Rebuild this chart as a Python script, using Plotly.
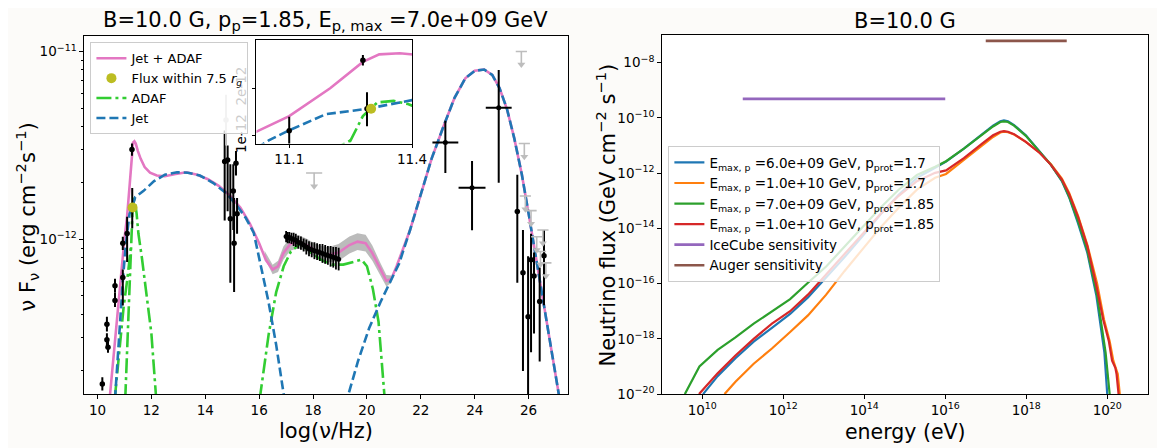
import plotly.graph_objects as go

# ================= LEFT PANEL DATA (x: log10(nu/Hz), y: log10(nu F_nu)) =================
total_x = [10.45, 10.6, 10.73, 10.87, 11.0, 11.1, 11.2, 11.28, 11.32, 11.37, 11.42, 11.5, 11.6, 11.75, 11.95,
           12.2, 12.5, 12.9, 13.3, 13.7, 14.1, 14.5, 14.9, 15.3, 15.65, 16.0, 16.25, 16.5, 16.7, 16.9,
           17.15, 17.45, 17.75, 18.15, 18.55, 18.95, 19.35, 19.65, 19.95, 20.2, 20.5, 20.72, 20.9, 21.1,
           21.6, 22.0, 22.4, 22.85, 23.25, 23.65, 24.0, 24.35, 24.65, 24.92, 25.2, 25.47, 25.75, 26.02,
           26.3, 26.57, 26.85, 27.15]
total_y = [-12.85, -12.63, -12.42, -12.2, -12.0, -11.876, -11.70, -11.533, -11.485, -11.478, -11.49, -11.53,
           -11.57, -11.615, -11.645, -11.66, -11.664, -11.652, -11.643, -11.656, -11.68, -11.715, -11.765,
           -11.83, -11.915, -12.02, -12.11, -12.16, -12.143, -12.073, -12.025, -12.012, -12.03, -12.064,
           -12.082, -12.07, -12.03, -12.012, -12.02, -12.073, -12.16, -12.22, -12.212, -12.143, -11.95,
           -11.76, -11.57, -11.395, -11.247, -11.143, -11.103, -11.096, -11.125, -11.195, -11.308, -11.464,
           -11.656, -11.88, -12.125, -12.369, -12.612, -12.85]

jet_x = [10.65, 10.8, 10.95, 11.05, 11.1, 11.19, 11.29, 11.4, 11.7, 12.1, 12.5, 12.95, 13.35, 13.8, 14.3,
         14.8, 15.2, 15.5, 15.8, 16.08, 16.35, 16.63, 16.97, None,
         19.2, 19.67, 20.08, 20.5, 20.91, 21.19, 21.6, 22.0, 22.4, 22.85, 23.25, 23.65, 24.0, 24.35, 24.65,
         24.92, 25.2, 25.47, 25.75, 26.02, 26.3, 26.57, 26.85, 27.15]
jet_y = [-12.85, -12.5, -12.2, -12.03, -11.966, -11.864, -11.83, -11.775, -11.743, -11.69, -11.656, -11.643,
         -11.645, -11.66, -11.70, -11.757, -11.825, -11.885, -11.965, -12.16, -12.334, -12.56, -12.88, None,
         -12.88, -12.647, -12.473, -12.334, -12.212, -12.13, -11.95, -11.76, -11.57, -11.395, -11.247,
         -11.143, -11.103, -11.096, -11.125, -11.195, -11.308, -11.464, -11.656, -11.88, -12.125, -12.369,
         -12.612, -12.85]

adaf_x = [10.64, 10.8, 10.97, 11.1, 11.2, 11.25, None,
          11.03, 11.15, 11.25, 11.28, 11.315, 11.355, 11.39, 11.45, 11.52, 11.65, 11.79, 12.0, 12.18, None,
          16.02, 16.35, 16.63, 16.91, 17.18, 17.46, 17.6, 17.87, 18.29, 18.7, 19.12, 19.53, 19.8, 20.0,
          20.22, 20.43, 20.66]
adaf_y = [-12.85, -12.6, -12.36, -12.22, -12.1, -12.03, None,
          -12.85, -12.4, -12.03, -11.876, -11.79, -11.78, -11.80, -11.86, -11.97, -12.1, -12.25, -12.5, -12.85,
          None,
          -12.85, -12.508, -12.282, -12.143, -12.064, -12.03, -12.03, -12.064, -12.108, -12.134, -12.134,
          -12.117, -12.108, -12.143, -12.264, -12.438, -12.85]

band_x = [16.2, 16.5, 16.7, 16.9, 17.15, 17.45, 17.75, 18.15, 18.55, 18.95, 19.35, 19.65, 19.95, 20.2, 20.5,
          20.72, 20.9]
band_hi = [-12.06, -12.135, -12.113, -12.038, -11.99, -11.977, -11.995, -12.029, -12.042, -12.025, -11.985,
           -11.967, -11.975, -12.033, -12.125, -12.19, -12.192]
band_lo = [-12.10, -12.185, -12.173, -12.108, -12.06, -12.047, -12.065, -12.099, -12.122, -12.115, -12.075,
           -12.057, -12.065, -12.113, -12.195, -12.25, -12.232]

# black data points with vertical error bars
pts_x = [10.18, 10.35, 10.35, 10.39, 10.65, 10.65, 10.94, 10.94, 11.1, 11.28, 11.29,
         14.72, 14.83, 14.93, 15.04, 15.07, 15.14, 15.18,
         25.58, 25.79, 25.98, 26.09, 26.2, 26.41, 26.57]
pts_y = [-12.769, -12.452, -12.534, -12.574, -12.325, -12.247, -12.203, -12.02, -11.969, -11.522, -11.83,
         -11.586, -11.577, -11.89, -11.742, -12.02, -11.595, -11.864,
         -11.852, -12.177, -12.412, -12.108, -12.195, -12.33, -12.087]
pts_lo = [-12.804, -12.49, -12.569, -12.603, -12.36, -12.282, -12.351, -12.056, -12.12, -11.555, -11.94,
          -11.9, -11.85, -12.23, -11.95, -12.28, -11.66, -11.97,
          -12.23, -12.7, -13.0, -12.6, -12.5, -12.65, -12.35]
pts_hi = [-12.734, -12.412, -12.499, -12.542, -12.282, -12.209, -12.16, -11.986, -11.88, -11.49, -11.726,
          -11.42, -11.5, -11.6, -11.6, -11.78, -11.53, -11.78,
          -11.656, -11.95, -12.09, -11.97, -12.07, -12.15, -11.95]

# X-ray spectrum points
xray_x = [17.0, 17.06, 17.12, 17.2, 17.28, 17.36, 17.45, 17.55, 17.65, 17.75, 17.85, 17.95, 18.05, 18.15,
          18.25, 18.35, 18.45, 18.55, 18.65, 18.75, 18.85, 18.95]
xray_y = [-11.985, -11.99, -11.99, -11.995, -12.0, -12.005, -12.015, -12.02, -12.03, -12.04, -12.05, -12.055,
          -12.06, -12.065, -12.07, -12.075, -12.08, -12.085, -12.09, -12.095, -12.1, -12.105]
xray_err = [0.03, 0.03, 0.03, 0.03, 0.035, 0.035, 0.035, 0.035, 0.035, 0.04, 0.04, 0.04, 0.045, 0.045,
            0.045, 0.05, 0.05, 0.05, 0.055, 0.055, 0.06, 0.06]

# gamma-ray points with horizontal bins
gam_x = [22.91, 23.9, 24.89]
gam_xerr = [0.48, 0.5, 0.48]
gam_y = [-11.485, -11.725, -11.30]
gam_lo = [-11.647, -11.951, -11.699]
gam_hi = [-11.369, -11.583, -11.099]

# grey point
grey_x = [14.77]
grey_y = [-11.365]
grey_lo = [-11.5]
grey_hi = [-11.23]

# grey upper limits
ul_x = [25.73, 25.84, 25.88, 26.09, 26.3, 26.53, 26.44, 26.64]
ul_y = [-11.0, -11.49, -11.769, -11.847, -11.986, -11.95, -12.064, -12.125]
ulx_x = [18.04]
ulx_y = [-11.647]
ulx_xerr = [0.3]
ul_arrow_dex = 0.07

core_x = [11.3]
core_y = [-11.83]

# ================= RIGHT PANEL DATA (x: log10 E/eV, y: log10 flux) =================
n1_x = [10.02, 10.38, 10.82, 11.27, 11.72, 12.17, 12.61, 13.06, 13.51, 13.96, 14.40, 14.85, 15.30, 15.75, 16.02,
        16.46, 16.91, 17.18, 17.36, 17.45, 17.55, 17.7, 17.99, 18.34, 18.61, 18.88, 19.06, 19.28, 19.51, 19.73,
        19.87, 19.93, 20.0]
n1_y = [-20, -19.35, -18.7, -18.1, -17.6, -17.1, -16.5, -15.78, -15.05, -14.28, -13.5, -12.78, -12.17, -11.81,
        -11.58, -11.11, -10.575, -10.28, -10.12, -10.09, -10.12, -10.26, -10.63, -11.22, -11.70, -12.29,
        -12.88, -13.82, -14.89, -16.42, -17.84, -18.5, -20]
n2_x = [10.55, 10.82, 11.27, 11.72, 12.17, 12.61, 13.06, 13.51, 13.96, 14.40, 14.85, 15.30, 15.75, 16.02, 16.46,
        16.91, 17.18, 17.36, 17.45, 17.55, 17.7, 17.99, 18.34, 18.61, 18.88, 19.06, 19.28, 19.51, 19.75, 19.92,
        20.06, 20.15, 20.22, 20.26, 20.31]
n2_y = [-20, -19.55, -18.9, -18.35, -17.75, -17.15, -16.4, -15.55, -14.75, -13.97, -13.25, -12.6, -12.17, -12.03,
        -11.52, -10.99, -10.69, -10.53, -10.5, -10.52, -10.6, -10.87, -11.27, -11.68, -12.2, -12.72, -13.55,
        -14.6, -16.0, -17.3, -18.09, -18.79, -19.05, -19.27, -20]
n3_x = [9.57, 9.93, 10.38, 10.82, 11.27, 11.72, 12.17, 12.61, 13.06, 13.51, 13.96, 14.40, 14.85, 15.30, 15.75,
        16.02, 16.46, 16.91, 17.18, 17.36, 17.45, 17.55, 17.7, 17.99, 18.34, 18.61, 18.88, 19.06, 19.28, 19.51,
        19.75, 19.9, 19.96, 20.06]
n3_y = [-20, -19.0, -18.4, -17.95, -17.45, -17.0, -16.56, -15.97, -15.38, -14.67, -13.96, -13.25, -12.6,
        -12.07, -11.77, -11.57, -11.11, -10.6, -10.31, -10.15, -10.13, -10.15, -10.28, -10.65, -11.22, -11.70,
        -12.27, -12.85, -13.75, -14.8, -16.42, -17.84, -18.5, -20]
n4_x = [9.92, 10.38, 10.82, 11.27, 11.72, 12.17, 12.61, 13.06, 13.51, 13.96, 14.40, 14.85, 15.30, 15.75, 16.02,
        16.46, 16.91, 17.18, 17.36, 17.45, 17.55, 17.7, 17.99, 18.34, 18.61, 18.88, 19.06, 19.28, 19.51, 19.73,
        19.9, 20.04, 20.12, 20.2, 20.23, 20.28]
n4_y = [-20, -19.25, -18.6, -18.0, -17.45, -17.0, -16.4, -15.68, -14.96, -14.2, -13.48, -12.82, -12.29, -11.99,
        -11.9, -11.46, -10.93, -10.63, -10.5, -10.48, -10.5, -10.59, -10.87, -11.28, -11.70, -12.23, -12.76,
        -13.59, -14.65, -16.07, -17.3, -18.09, -18.79, -19.05, -19.27, -20]
icecube_x = [11.0, 16.0]
icecube_y = [-9.31, -9.31]
auger_x = [17.0, 19.0]
auger_y = [-7.21, -7.21]

nu_labels = ["E<sub>max, p</sub> =6.0e+09 GeV, p<sub>prot</sub>=1.7",
             "E<sub>max, p</sub> =1.0e+10 GeV, p<sub>prot</sub>=1.7",
             "E<sub>max, p</sub> =7.0e+09 GeV, p<sub>prot</sub>=1.85",
             "E<sub>max, p</sub> =1.0e+10 GeV, p<sub>prot</sub>=1.85",
             "IceCube sensitivity", "Auger sensitivity"]
nu_colors = ["#1f77b4", "#ff7f0e", "#2ca02c", "#d62728", "#9467bd", "#8c564b"]

# ================= BUILD =================
def P(v):
    return [None if a is None else 10 ** a for a in v]

PINK = "#e377c2"
BLUE = "#1f77b4"
GREEN = "#32cd32"
OLIVE = "#bcbd22"
GREY = "#bdbdbd"
FONT = "DejaVu Sans"

fig = go.Figure()


def add_sed(xa, ya, legend_on):
    fig.add_trace(go.Scatter(x=band_x + band_x[::-1], y=P(band_hi + band_lo[::-1]), fill="toself",
                             fillcolor="rgba(150,150,150,0.65)", line=dict(width=0), mode="lines",
                             showlegend=False, hoverinfo="skip", xaxis=xa, yaxis=ya))
    fig.add_trace(go.Scatter(x=total_x, y=P(total_y), mode="lines", line=dict(color=PINK, width=2.6),
                             name="Jet + ADAF", legendrank=1, showlegend=legend_on, xaxis=xa, yaxis=ya))
    fig.add_trace(go.Scatter(x=adaf_x, y=P(adaf_y), mode="lines",
                             line=dict(color=GREEN, width=2.6, dash="15px,4px,3px,4px"),
                             name="ADAF", legendrank=3, showlegend=legend_on, xaxis=xa, yaxis=ya))
    fig.add_trace(go.Scatter(x=jet_x, y=P(jet_y), mode="lines",
                             line=dict(color=BLUE, width=2.6, dash="9px,4px"),
                             name="Jet", legendrank=4, showlegend=legend_on, xaxis=xa, yaxis=ya))
    # black points
    fig.add_trace(go.Scatter(
        x=pts_x, y=P(pts_y), mode="markers", marker=dict(color="black", size=5.5),
        error_y=dict(type="data", symmetric=False,
                     array=[10 ** h - 10 ** y for h, y in zip(pts_hi, pts_y)],
                     arrayminus=[10 ** y - 10 ** l for l, y in zip(pts_lo, pts_y)],
                     color="black", thickness=2, width=0),
        showlegend=False, xaxis=xa, yaxis=ya))
    fig.add_trace(go.Scatter(
        x=xray_x, y=P(xray_y), mode="markers", marker=dict(color="black", size=5),
        error_y=dict(type="data", symmetric=False,
                     array=[10 ** (y + e) - 10 ** y for y, e in zip(xray_y, xray_err)],
                     arrayminus=[10 ** y - 10 ** (y - e) for y, e in zip(xray_y, xray_err)],
                     color="black", thickness=1.8, width=0),
        showlegend=False, xaxis=xa, yaxis=ya))
    fig.add_trace(go.Scatter(
        x=gam_x, y=P(gam_y), mode="markers", marker=dict(color="black", size=5),
        error_x=dict(type="data", array=gam_xerr, color="black", thickness=2, width=0),
        error_y=dict(type="data", symmetric=False,
                     array=[10 ** h - 10 ** y for h, y in zip(gam_hi, gam_y)],
                     arrayminus=[10 ** y - 10 ** l for l, y in zip(gam_lo, gam_y)],
                     color="black", thickness=2, width=0),
        showlegend=False, xaxis=xa, yaxis=ya))
    fig.add_trace(go.Scatter(
        x=grey_x, y=P(grey_y), mode="markers", marker=dict(color=GREY, size=5.5),
        error_y=dict(type="data", symmetric=False,
                     array=[10 ** h - 10 ** y for h, y in zip(grey_hi, grey_y)],
                     arrayminus=[10 ** y - 10 ** l for l, y in zip(grey_lo, grey_y)],
                     color=GREY, thickness=2, width=0),
        showlegend=False, xaxis=xa, yaxis=ya))
    # upper limits
    fig.add_trace(go.Scatter(
        x=ul_x, y=P(ul_y), mode="markers",
        marker=dict(symbol="line-ew", size=8, color=GREY, line=dict(color=GREY, width=1.6)),
        error_y=dict(type="data", symmetric=False, array=[0] * len(ul_y),
                     arrayminus=[10 ** y - 10 ** (y - ul_arrow_dex) for y in ul_y],
                     color=GREY, thickness=1.6, width=0),
        showlegend=False, xaxis=xa, yaxis=ya))
    fig.add_trace(go.Scatter(
        x=ulx_x, y=P(ulx_y), mode="markers", marker=dict(size=1, color=GREY),
        error_x=dict(type="data", array=ulx_xerr, color=GREY, thickness=1.6, width=0),
        error_y=dict(type="data", symmetric=False, array=[0],
                     arrayminus=[10 ** y - 10 ** (y - ul_arrow_dex) for y in ulx_y],
                     color=GREY, thickness=1.6, width=0),
        showlegend=False, xaxis=xa, yaxis=ya))
    fig.add_trace(go.Scatter(
        x=ul_x + ulx_x, y=[10 ** (y - ul_arrow_dex) for y in ul_y + ulx_y], mode="markers",
        marker=dict(symbol="triangle-down", size=7, color=GREY),
        showlegend=False, xaxis=xa, yaxis=ya))
    fig.add_trace(go.Scatter(x=core_x, y=P(core_y), mode="markers", marker=dict(color=OLIVE, size=10),
                             name="Flux within 7.5 <i>r<sub>g</sub></i>", legendrank=2,
                             showlegend=legend_on, xaxis=xa, yaxis=ya))


add_sed("x", "y", True)
add_sed("x2", "y2", False)

nu_sets = [(n1_x, n1_y), (n2_x, n2_y), (n3_x, n3_y), (n4_x, n4_y), (icecube_x, icecube_y), (auger_x, auger_y)]
for i, (xx, yy) in enumerate(nu_sets):
    fig.add_trace(go.Scatter(x=P(xx), y=P(yy), mode="lines",
                             line=dict(color=nu_colors[i], width=2.6 if i >= 4 else 2.2),
                             name=nu_labels[i], legend="legend2", xaxis="x3", yaxis="y3"))

W, H = 1165, 448
axcommon = dict(showline=True, linecolor="black", linewidth=1.2, mirror=True, ticks="outside",
                ticklen=3.5, tickwidth=1, tickcolor="black", showgrid=False, zeroline=False,
                tickfont=dict(family=FONT, size=13.5, color="black"))

minor_left = [m * 10 ** e for e in (-13, -12) for m in range(2, 10)]

fig.update_layout(
    width=W, height=H, autosize=False, margin=dict(l=0, r=0, t=0, b=0),
    paper_bgcolor="#fcfbf9", plot_bgcolor="white",
    font=dict(family=FONT, color="black"),
    xaxis=dict(domain=[77 / W, 567 / W], range=[9.5, 27.45], anchor="y",
               tickvals=[10, 12, 14, 16, 18, 20, 22, 24, 26], **axcommon),
    yaxis=dict(domain=[54 / H, 419 / H], type="log", range=[-12.823, -10.92], anchor="x",
               tickvals=[1e-12, 1e-11], ticktext=["10<sup>−12</sup>", "10<sup>−11</sup>"],
               minor=dict(tickvals=minor_left, ticks="outside", ticklen=2, tickcolor="black"),
               **axcommon),
    xaxis2=dict(domain=[251.7 / W, 409.3 / W], range=[11.02, 11.40], anchor="y2",
                tickvals=[11.1, 11.4], ticktext=["11.1", "11.4"], **axcommon),
    yaxis2=dict(domain=[(H - 138.3) / H, (H - 32.3) / H], type="log", range=[-12.05, -11.392], anchor="x2",
                tickvals=[1e-12, 2e-12], ticktext=["1e-12", "2e-12"], tickangle=-90, **axcommon),
    xaxis3=dict(domain=[662.3 / W, 1155 / W], type="log", range=[9.0, 21.01], anchor="y3",
                tickvals=[1e10, 1e12, 1e14, 1e16, 1e18, 1e20],
                ticktext=["10<sup>10</sup>", "10<sup>12</sup>", "10<sup>14</sup>", "10<sup>16</sup>",
                          "10<sup>18</sup>", "10<sup>20</sup>"], **axcommon),
    yaxis3=dict(domain=[54 / H, (H - 27.3) / H], type="log", range=[-20, -6.99], anchor="x3",
                tickvals=[1e-20, 1e-18, 1e-16, 1e-14, 1e-12, 1e-10, 1e-8],
                ticktext=["10<sup>−20</sup>", "10<sup>−18</sup>", "10<sup>−16</sup>", "10<sup>−14</sup>",
                          "10<sup>−12</sup>", "10<sup>−10</sup>", "10<sup>−8</sup>"], **axcommon),
    legend=dict(x=83.5 / W, y=(H - 35) / H, xanchor="left", yanchor="top",
                bgcolor="rgba(255,255,255,0.8)", bordercolor="#cccccc", borderwidth=1,
                font=dict(family=FONT, size=13, color="black")),
    legend2=dict(x=669 / W, y=(H - 141) / H, xanchor="left", yanchor="top",
                 bgcolor="rgba(255,255,255,0.8)", bordercolor="#cccccc", borderwidth=1,
                 font=dict(family=FONT, size=13.5, color="black")),
    showlegend=True,
)

ann = [
    dict(text="B=10.0 G, p<sub>p</sub>=1.85, E<sub>p, max</sub> =7.0e+09 GeV", x=322 / W, y=(H - 13) / H,
         size=21, angle=0),
    dict(text="B=10.0 G", x=909 / W, y=(H - 13) / H, size=21, angle=0),
    dict(text="log(ν/Hz)", x=322 / W, y=(H - 432) / H, size=21, angle=0),
    dict(text="energy (eV)", x=909 / W, y=(H - 433) / H, size=20.5, angle=0),
    dict(text="ν F<sub>ν</sub> (erg cm<sup>−2</sup>s<sup>−1</sup>)", x=19 / W, y=(H - 213) / H, size=21,
         angle=-90),
    dict(text="Neutrino flux (GeV cm<sup>−2</sup> s<sup>−1</sup>)", x=605.5 / W, y=(H - 211) / H, size=21,
         angle=-90),
]
for a in ann:
    fig.add_annotation(text=a["text"], x=a["x"], y=a["y"], xref="paper", yref="paper", showarrow=False,
                       xanchor="center", yanchor="middle", textangle=a["angle"],
                       font=dict(family=FONT, size=a["size"], color="black"))

fig.write_html("out.html")
